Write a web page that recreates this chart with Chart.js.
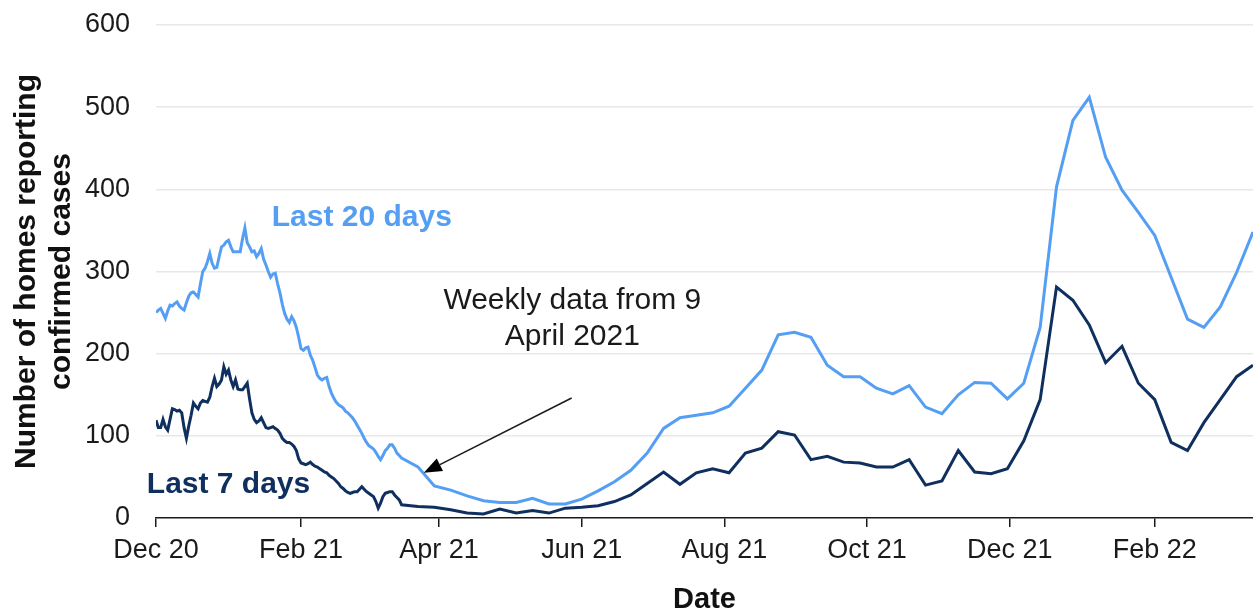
<!DOCTYPE html>
<html>
<head>
<meta charset="utf-8">
<script src="https://cdn.jsdelivr.net/npm/chart.js@4.4.1/dist/chart.umd.min.js"></script>
<style>
  html, body { margin: 0; padding: 0; background: #fff; }
  #wrap { width: 1253px; height: 614px; position: relative; }
</style>
</head>
<body>
<div id="wrap"><canvas id="homesChart"></canvas></div>
<script>
// days counted from 1 Dec 2020; daily values up to day 105, weekly after that
const weeklyStartDay = 112;
const weeklyStep = 7;

const dailyLast20 = [
  250, 253, 255, 249, 243, 252, 259, 258, 261, 263,
  258, 255, 253, 262, 270, 274, 275, 272, 269, 285,
  300, 304, 312, 322, 310, 304, 305, 318, 330, 332,
  336, 338, 330, 324, 324, 324, 324, 340, 353, 335,
  330, 324, 325, 318, 322, 328, 315, 308, 300, 293,
  297, 298, 285, 274, 260, 249, 242, 238, 245, 240,
  232, 220, 206, 204, 207, 208, 198, 192, 183, 174,
  170, 168, 170, 171, 160, 152, 146, 141, 138, 136,
  134, 130, 128, 125, 122, 118, 113, 108, 103, 97,
  92, 88, 86, 84, 80, 75, 71, 76, 82, 85,
  89, 89, 85, 79, 76, 73
];
const dailyLast7 = [
  119, 110, 110, 120, 111, 107, 120, 133, 132, 130,
  131, 128, 110, 97, 112, 125, 140, 136, 133, 140,
  143, 142, 141, 147, 160, 170, 160, 163, 168, 184,
  175, 180, 168, 160, 168, 157, 156, 156, 160, 164,
  145, 128, 120, 116, 118, 122, 116, 110, 109, 110,
  111, 109, 107, 103, 97, 94, 92, 92, 90, 87,
  82, 72, 67, 66, 65, 66, 68, 65, 63, 62,
  60, 58, 56, 55, 52, 50, 48, 45, 42, 38,
  36, 33, 31, 30, 31, 32, 32, 35, 38, 35,
  32, 30, 28, 26, 20, 12, 18, 26, 30, 31,
  32, 32, 28, 25, 22, 16
];
const weeklyLast20 = [
  62, 39, 34, 27, 21, 19, 19, 24, 17, 17,
  23, 33, 44, 58, 79, 109, 122, 125, 128, 136,
  158, 180, 223, 226, 220, 186, 172, 172, 158, 151,
  161, 135, 127, 150, 165, 164, 145, 164, 232, 403,
  484, 512, 439, 399, 372, 344, 293, 242, 232, 257,
  299, 348
];
const weeklyLast7 = [
  14, 13, 10, 6, 5, 11, 6, 9, 6, 12,
  13, 15, 20, 28, 42, 56, 41, 55, 60, 55,
  79, 85, 105, 101, 71, 75, 68, 67, 62, 62,
  71, 40, 45, 82, 56, 54, 60, 94, 144, 281,
  265, 235, 189, 209, 164, 144, 92, 82, 116, 144,
  172, 186
];

const tickDays = [0, 62, 121, 182, 243, 304, 365, 427];
const tickLabels = ["Dec 20", "Feb 21", "Apr 21", "Jun 21", "Aug 21", "Oct 21", "Dec 21", "Feb 22"];
const lastDay = 469;

const lightBlue = "#549ff4";
const navy = "#0f2f5f";
const fontFamily = '"Liberation Sans", Arial, sans-serif';

function toPoints(daily, weekly) {
  const pts = daily.map((v, i) => ({ x: i, y: v }));
  weekly.forEach((v, i) => pts.push({ x: weeklyStartDay + i * weeklyStep, y: v }));
  return pts;
}

// annotations: text and arrow placed in data units
const notes = {
  id: "notes",
  afterDatasetsDraw(chart) {
    const { ctx, scales: { x, y } } = chart;
    ctx.save();
    ctx.textAlign = "center";
    ctx.textBaseline = "middle";

    ctx.font = "bold 30px " + fontFamily;
    ctx.fillStyle = lightBlue;
    ctx.fillText("Last 20 days", x.getPixelForValue(88), y.getPixelForValue(365));
    ctx.fillStyle = navy;
    ctx.fillText("Last 7 days", x.getPixelForValue(31), y.getPixelForValue(40));

    ctx.font = "30px " + fontFamily;
    ctx.fillStyle = "#1a1a1a";
    ctx.fillText("Weekly data from 9", x.getPixelForValue(178), y.getPixelForValue(264));
    ctx.fillText("April 2021", x.getPixelForValue(178), y.getPixelForValue(221));

    // arrow
    const x0 = x.getPixelForValue(177.7), y0 = y.getPixelForValue(146);
    const x1 = x.getPixelForValue(114.5), y1 = y.getPixelForValue(55);
    const ang = Math.atan2(y1 - y0, x1 - x0);
    const headLen = 18, headW = 7;
    const bx = x1 - headLen * Math.cos(ang), by = y1 - headLen * Math.sin(ang);
    ctx.strokeStyle = "#1a1a1a";
    ctx.lineWidth = 1.5;
    ctx.beginPath();
    ctx.moveTo(x0, y0);
    ctx.lineTo(bx, by);
    ctx.stroke();
    ctx.fillStyle = "#000";
    ctx.beginPath();
    ctx.moveTo(x1, y1);
    ctx.lineTo(bx + headW * Math.sin(ang), by - headW * Math.cos(ang));
    ctx.lineTo(bx - headW * Math.sin(ang), by + headW * Math.cos(ang));
    ctx.closePath();
    ctx.fill();
    ctx.restore();
  }
};

const ctx = document.getElementById("homesChart").getContext("2d");
new Chart(ctx, {
  type: "line",
  data: {
    datasets: [
      {
        label: "Last 7 days",
        data: toPoints(dailyLast7, weeklyLast7),
        borderColor: navy,
        borderWidth: 3,
        pointRadius: 0,
        tension: 0,
      },
      {
        label: "Last 20 days",
        data: toPoints(dailyLast20, weeklyLast20),
        borderColor: lightBlue,
        borderWidth: 3,
        pointRadius: 0,
        tension: 0,
      },
    ],
  },
  options: {
    responsive: true,
    maintainAspectRatio: false,
    animation: false,
    layout: { padding: { top: 25, left: 0, right: 0, bottom: 0 } },
    plugins: {
      legend: { display: false },
      tooltip: { enabled: false },
    },
    scales: {
      x: {
        type: "linear",
        min: 0,
        max: lastDay,
        afterBuildTicks: (scale) => {
          scale.ticks = tickDays.map((v) => ({ value: v }));
        },
        afterFit: (scale) => { scale.height = 96; },
        ticks: {
          autoSkip: false,
          maxRotation: 0,
          padding: 7,
          color: "#1a1a1a",
          font: { size: 27 },
          callback: (value) => tickLabels[tickDays.indexOf(value)],
        },
        grid: {
          display: true,
          drawOnChartArea: false,
          drawTicks: true,
          tickLength: 9,
          color: "#1a1a1a",
          lineWidth: 1.5,
        },
        border: { display: true, color: "#1a1a1a", width: 1.5 },
        title: {
          display: true,
          text: "Date",
          color: "#111",
          font: { size: 29, weight: "bold", lineHeight: 1 },
          padding: { top: 0, bottom: 0 },
        },
      },
      y: {
        min: 0,
        max: 600,
        afterFit: (scale) => { scale.width = 156; },
        ticks: {
          stepSize: 100,
          padding: 0,
          color: "#1a1a1a",
          font: { size: 27 },
        },
        grid: {
          drawTicks: true,
          tickLength: 26,
          tickColor: "rgba(0,0,0,0)",
          color: (c) => (c.tick && c.tick.value === 0 ? "rgba(0,0,0,0)" : "#e8e8e8"),
          lineWidth: 1.5,
        },
        border: { display: false },
        title: {
          display: true,
          text: ["Number of homes reporting", "confirmed cases"],
          color: "#111",
          font: { size: 30, weight: "bold", lineHeight: 1.17 },
          padding: { top: 9, bottom: 0 },
        },
      },
    },
  },
  plugins: [notes],
});
</script>
</body>
</html>
